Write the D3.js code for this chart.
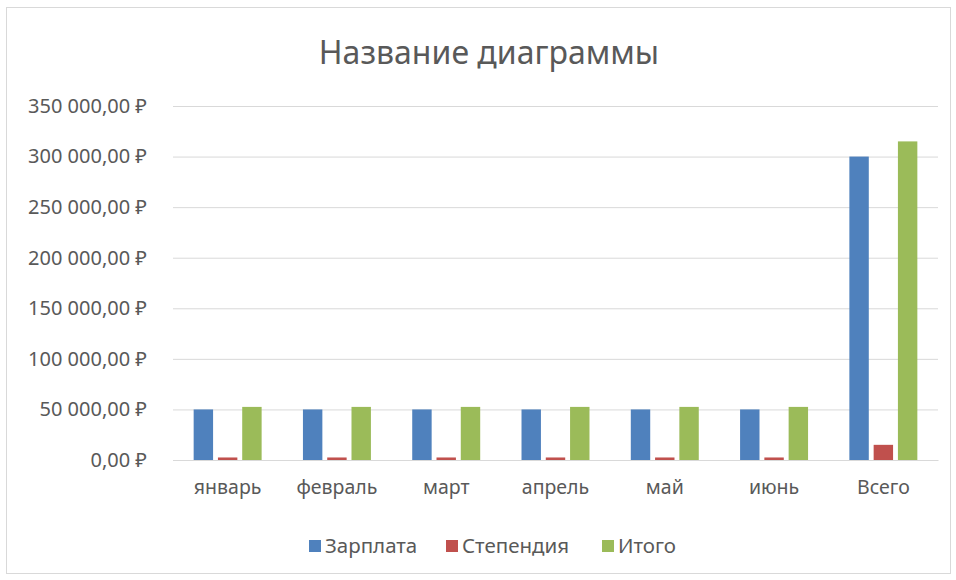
<!DOCTYPE html>
<html>
<head>
<meta charset="utf-8">
<script src="https://cdn.jsdelivr.net/npm/d3@7"></script>
<style>
  body { margin: 0; background: #fff; }
  text { font-family: "Noto Sans", "DejaVu Sans", sans-serif; fill: #595959; }
</style>
</head>
<body>
<div id="chart"></div>
<script>
// categories, series and values
var categories = ["январь", "февраль", "март", "апрель", "май", "июнь", "Всего"];
var seriesNames = ["Зарплата", "Степендия", "Итого"];
var seriesColors = ["#4f81bd", "#c0504d", "#9bbb59"];
var salary = [50000, 50000, 50000, 50000, 50000, 50000, 300000];
var stipend = [2500, 2500, 2500, 2500, 2500, 2500, 15000];
var total = [52500, 52500, 52500, 52500, 52500, 52500, 315000];
var yTicks = [0, 50000, 100000, 150000, 200000, 250000, 300000, 350000];

var width = 956, height = 580;

var svg = d3.select("#chart").append("svg")
    .attr("width", width)
    .attr("height", height);

// chart frame
svg.append("rect")
    .attr("x", 6.5).attr("y", 7.5)
    .attr("width", 944).attr("height", 566)
    .attr("fill", "#fff")
    .attr("stroke", "#d9d9d9");

svg.append("text")
    .attr("x", 489).attr("y", 64)
    .attr("text-anchor", "middle")
    .style("font-size", "32px")
    .text("Название диаграммы");

var y = d3.scaleLinear().domain([0, 350000]).range([460, 106]);
var x0 = d3.scaleBand().domain(categories).range([173, 938])
    .paddingInner(0.378).paddingOuter(0.189);
var x1 = d3.scaleBand().domain(seriesNames).range([0, x0.bandwidth()])
    .paddingInner(0.2);

var locale = d3.formatLocale({decimal: ",", thousands: " ", grouping: [3], currency: ["", " ₽"]});
var fmt = locale.format("$,.2f");

// gridlines + y labels
var yAxis = svg.append("g")
    .attr("transform", "translate(173,0)")
    .call(d3.axisLeft(y).tickValues(yTicks).tickSize(-765).tickFormat(fmt).tickPadding(26));
yAxis.select(".domain").remove();
yAxis.selectAll("line").attr("stroke", "#d9d9d9");
yAxis.selectAll("text").style("font-size", "20px").attr("fill", "#595959");

// x labels
var xAxis = svg.append("g")
    .attr("transform", "translate(0,460)")
    .call(d3.axisBottom(x0).tickSize(0).tickPadding(20));
xAxis.select(".domain").attr("stroke", "#d9d9d9");
xAxis.selectAll("text").style("font-size", "19.5px").attr("fill", "#595959");

var rows = categories.map(function(c, i){
  return {cat: c, vals: [salary[i], stipend[i], total[i]]};
});

var groups = svg.selectAll(".grp")
    .data(rows)
    .enter().append("g")
    .attr("class", "grp")
    .attr("transform", function(d){ return "translate(" + x0(d.cat) + ",0)"; });

groups.selectAll("rect")
    .data(function(d){
      return d.vals.map(function(v, j){ return {name: seriesNames[j], value: v, color: seriesColors[j]}; });
    })
    .enter().append("rect")
    .attr("x", function(d){ return x1(d.name); })
    .attr("y", function(d){ return y(d.value); })
    .attr("width", x1.bandwidth())
    .attr("height", function(d){ return y(0) - y(d.value); })
    .attr("fill", function(d){ return d.color; });

// legend
var legendX = [309, 446, 602];
var legend = svg.selectAll(".legendItem")
    .data(seriesNames)
    .enter().append("g")
    .attr("class", "legendItem")
    .attr("transform", function(d, i){ return "translate(" + legendX[i] + ",540)"; });
legend.append("rect")
    .attr("width", 12).attr("height", 12)
    .attr("fill", function(d, i){ return seriesColors[i]; });
legend.append("text")
    .attr("x", 16).attr("y", 13)
    .style("font-size", "20.5px")
    .text(function(d){ return d; });
</script>
</body>
</html>
